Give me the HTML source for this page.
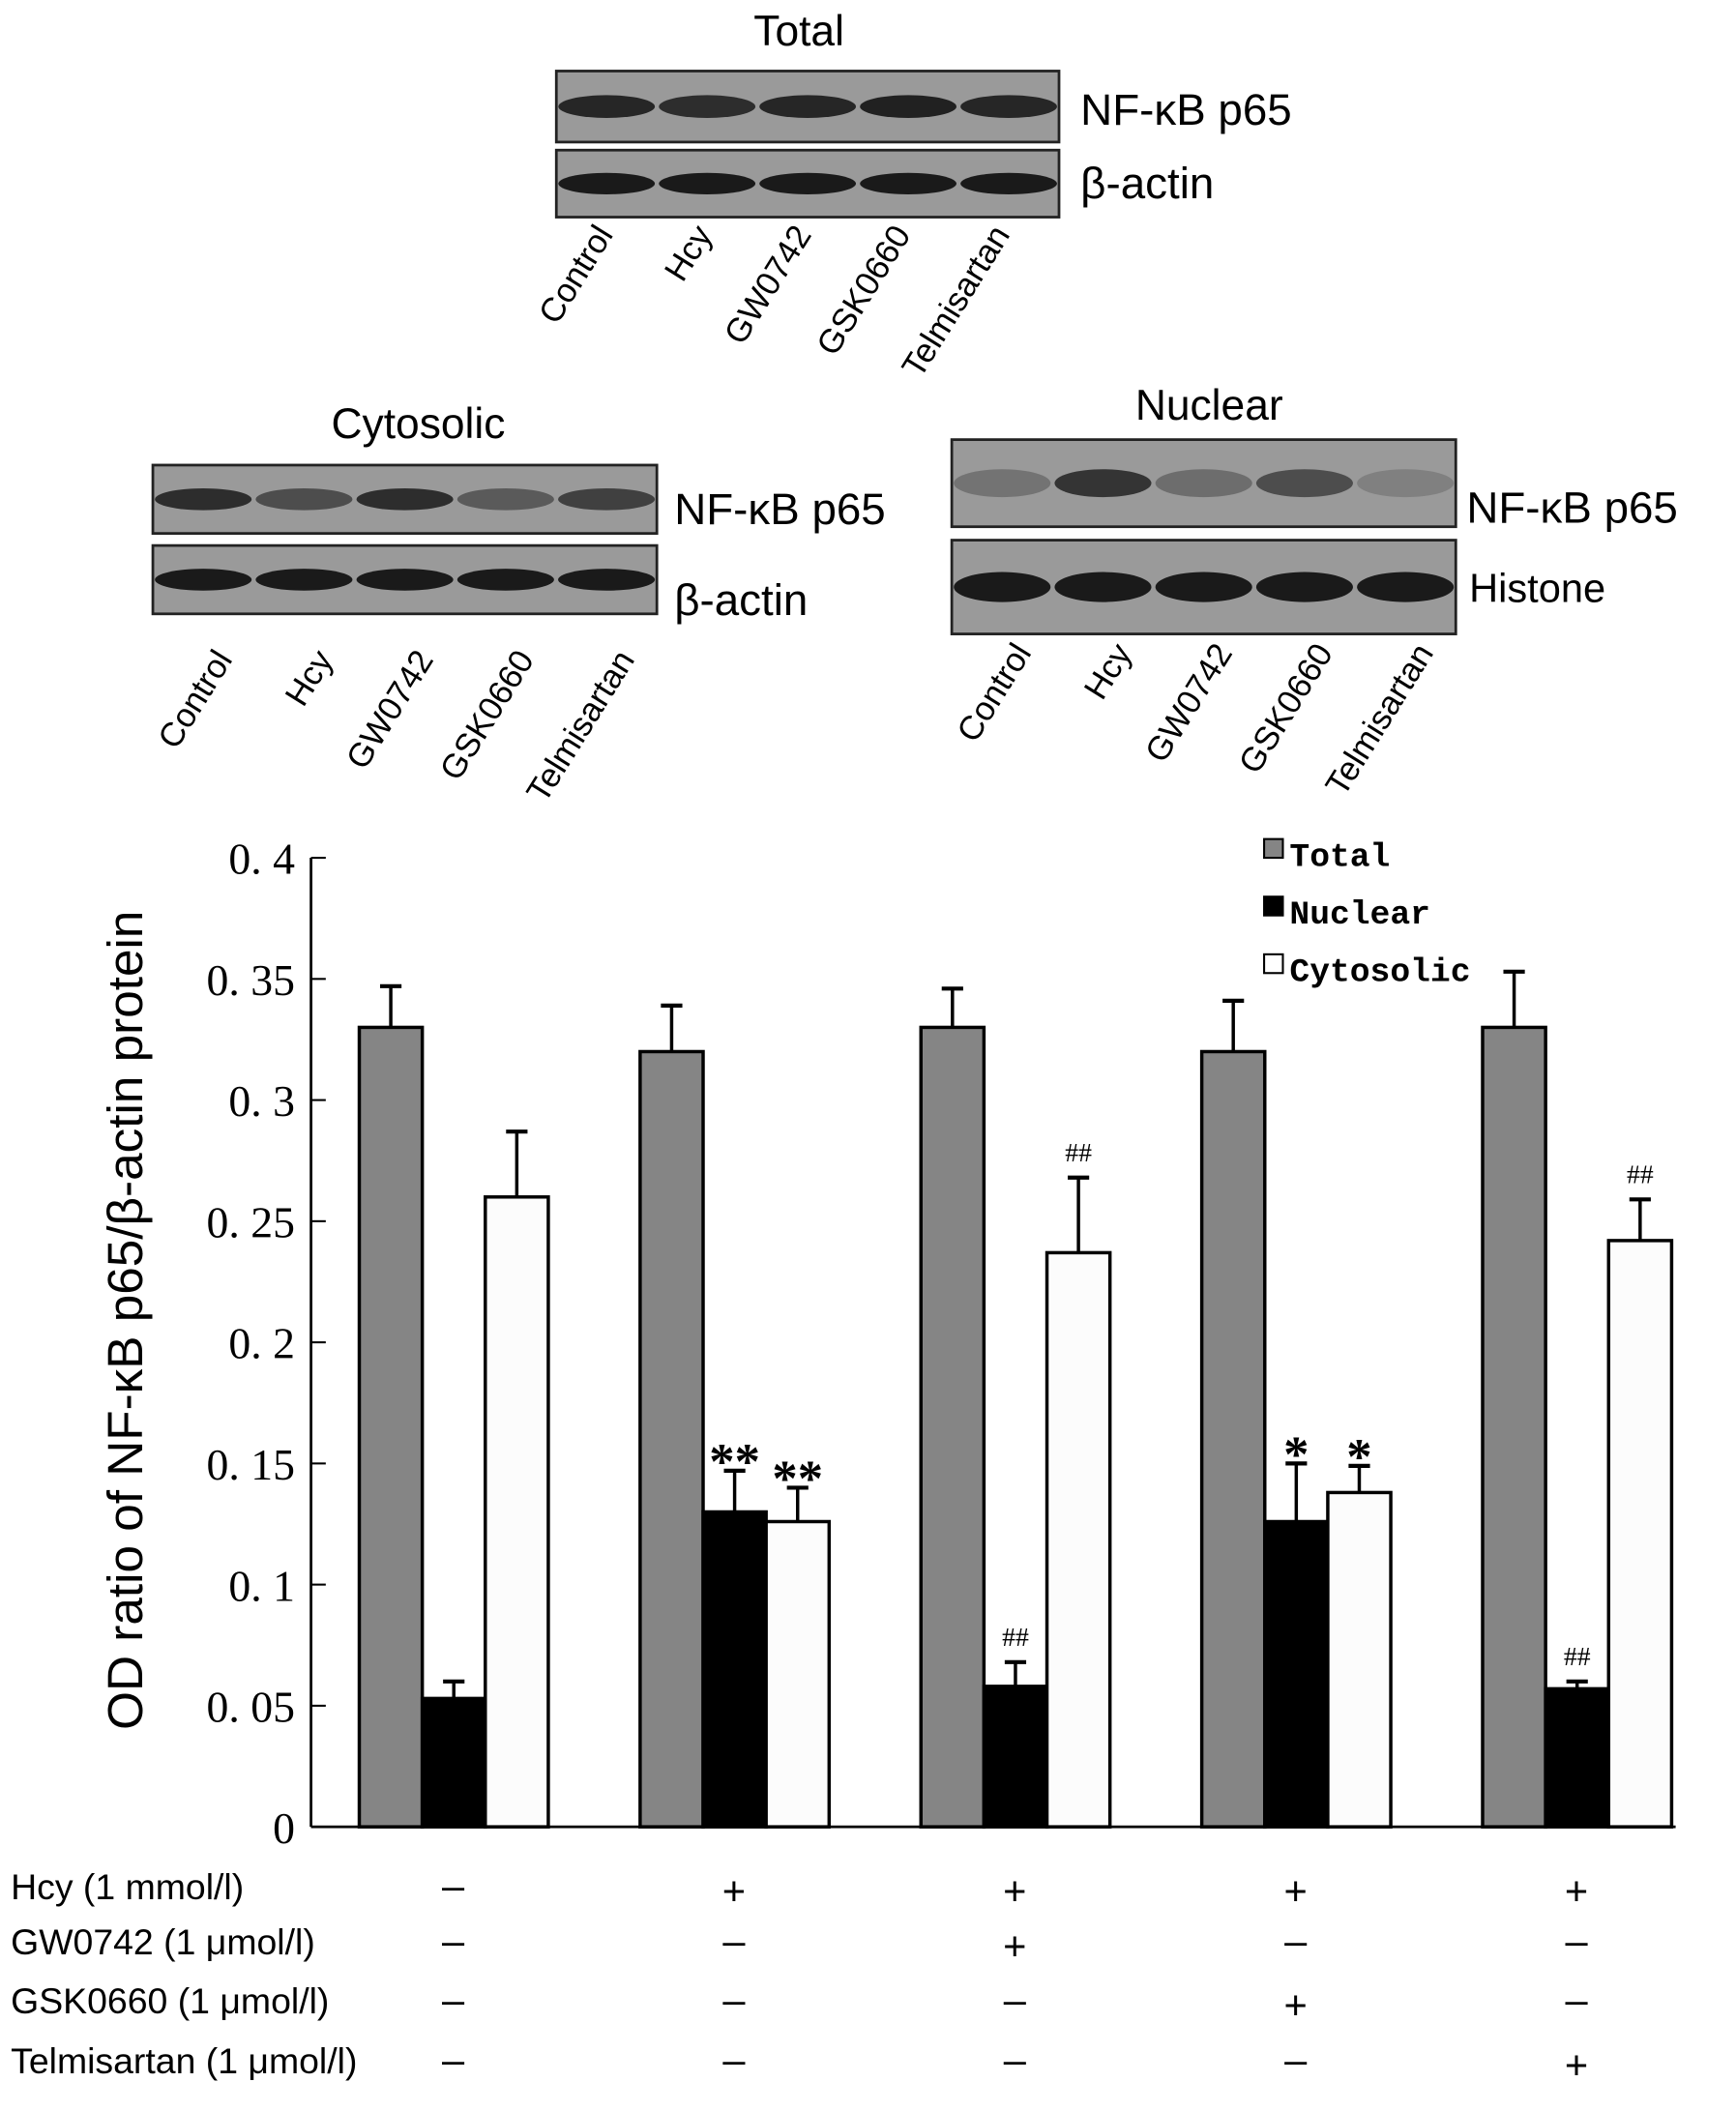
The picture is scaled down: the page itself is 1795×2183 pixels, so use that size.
<!DOCTYPE html>
<html><head><meta charset="utf-8"><style>
html,body{margin:0;padding:0;background:#fff;}
svg{display:block;}
.s{font-family:"Liberation Sans",sans-serif;}
.m{font-family:"Liberation Serif",serif;}
.mo{font-family:"Liberation Mono",monospace;}
</style></head><body>
<svg id="fig" width="1795" height="2183" viewBox="0 0 1295 1575" xmlns="http://www.w3.org/2000/svg">
<g id="blots"></g>
<g id="chart"></g>
<g id="table"></g>
</svg>
<script>
const categories=["Control","Hcy","GW0742","GSK0660","Telmisartan"];
const totalVals=[0.33,0.32,0.33,0.32,0.33];
const totalErr=[0.017,0.019,0.016,0.021,0.023];
const nuclearVals=[0.053,0.13,0.058,0.126,0.057];
const nuclearErr=[0.007,0.017,0.010,0.024,0.003];
const cytoVals=[0.26,0.126,0.237,0.138,0.242];
const cytoErr=[0.027,0.014,0.031,0.011,0.017];
const nuclearMarks=["","**","##","*","##"];
const cytoMarks=["","**","##","*","##"];
const yTicks=[0,0.05,0.1,0.15,0.2,0.25,0.3,0.35,0.4];
const yTickLabels=["0","0. 05","0. 1","0. 15","0. 2","0. 25","0. 3","0. 35","0. 4"];
const legendLabels=["Total","Nuclear","Cytosolic"];
const rowLabels=["Hcy (1 mmol/l)","GW0742 (1 μmol/l)","GSK0660 (1 μmol/l)","Telmisartan (1 μmol/l)"];
const rowSigns=[["–","+","+","+","+"],["–","–","+","–","–"],["–","–","–","+","–"],["–","–","–","–","+"]];
const NS="http://www.w3.org/2000/svg";
function mk(p,t,a,txt){const e=document.createElementNS(NS,t);for(const k in a)e.setAttribute(k,a[k]);if(txt!==undefined)e.textContent=txt;p.appendChild(e);return e;}
const y0=1363,y1=640,axX=232;
const ys=v=>y0-(v/0.4)*(y0-y1);
const gx=i=>268+i*209.5;
const bw=47;
const chart=document.getElementById('chart');
let ax=mk(chart,'line',{x1:axX,y1:y1,x2:axX,y2:y0,stroke:'#000','stroke-width':2});


let bx=mk(chart,'line',{x1:axX,y1:y0,x2:1250,y2:y0,stroke:'#000','stroke-width':2});


yTicks.forEach((t,i)=>{
 const y=ys(t);
 const tk=mk(chart,'line',{x1:axX,y1:y,x2:axX+11,y2:y,stroke:'#000','stroke-width':1.5});
 
 
 const tl=mk(chart,'text',{x:220,y:y+12,'text-anchor':'end','font-size':33,class:'m'},yTickLabels[i]);
 
 
});
const yt=mk(chart,'text',{x:0,y:0,transform:'translate(106,985) rotate(-90)','text-anchor':'middle','font-size':37,class:'s'},'OD ratio of NF-κB p65/β-actin protein');


const series=[[totalVals,totalErr,'#858585','total'],[nuclearVals,nuclearErr,'#000','nuclear'],[cytoVals,cytoErr,'#fcfcfc','cytosolic']];
categories.forEach((c,i)=>{
 series.forEach((s,j)=>{
  const x=gx(i)+j*bw, v=s[0][i], e=s[1][i];
  const cx=x+bw/2;
  const el=mk(chart,'line',{x1:cx,y1:ys(v),x2:cx,y2:ys(v+e),stroke:'#000','stroke-width':2.5});
  
  
  const cap=mk(chart,'line',{x1:cx-8,y1:ys(v+e),x2:cx+8,y2:ys(v+e),stroke:'#000','stroke-width':3});
  
  
  const r=mk(chart,'rect',{x:x,y:ys(v),width:bw,height:y0-ys(v),fill:s[2],stroke:'#000','stroke-width':2.5});
  
  
 });
 const ann=[[nuclearMarks[i],1,nuclearVals[i]+nuclearErr[i]],[cytoMarks[i],2,cytoVals[i]+cytoErr[i]]];
 ann.forEach(a=>{
  if(!a[0])return;
  const big=a[0].includes('*');
  const t=mk(chart,'text',{x:gx(i)+a[1]*bw+bw/2,y:ys(a[2])-(big?-6:12),'text-anchor':'middle','font-size':big?38:20,'font-weight':big?'bold':'normal',class:'m'},a[0]);
  
  
 });
});
const lcol=['#858585','#000','#fff'];
legendLabels.forEach((l,i)=>{
 const y=626+i*43;
 const r=mk(chart,'rect',{x:943,y:y,width:14,height:14,fill:lcol[i],stroke:'#000','stroke-width':1.5});
 
 
 const t=mk(chart,'text',{x:962,y:y+20,'font-size':25,'font-weight':'bold',class:'mo'},l);
 
 
});
const tb=document.getElementById('table');
const rowY=[1417,1458,1502,1547];
rowLabels.forEach((l,r)=>{
 const t=mk(tb,'text',{x:8,y:rowY[r],'font-size':27,class:'s'},l);
 
 
 rowSigns[r].forEach((s,i)=>{
  const st=mk(tb,'text',{x:gx(i)+70,y:rowY[r]+(s==='+'?4:0),'text-anchor':'middle','font-size':30,class:'s'},s);
  
  
 });
});
const bl=document.getElementById('blots');
function blot(x,y,w,h,intens,name){
 const g=mk(bl,'g',{});
 
 
 mk(g,'rect',{x:x,y:y,width:w,height:h,fill:'#9a9a9a',stroke:'#222','stroke-width':2});
 const lw=w/5;
 intens.forEach((k,i)=>{
  mk(g,'ellipse',{cx:x+lw*(i+0.5),cy:y+h/2,rx:lw*0.48,ry:h*0.16,fill:'#1a1a1a','fill-opacity':k});
 });
}
function txt(x,y,s,size,name,extra){
 const t=mk(bl,'text',Object.assign({x:x,y:y,'font-size':size,class:'s'},extra||{}),s);
 
 
}
function lanes(x0,lw,yb){
 categories.forEach((c,i)=>{
  const x=x0+i*lw;
  txt(0,0,c,25,'lane-label',{transform:`translate(${x},${yb}) rotate(-58)`,'text-anchor':'end'});
 });
}
txt(596,34,'Total',32,'panel-title-total',{'text-anchor':'middle'});
blot(415,53,375,53,[0.9,0.85,0.9,0.95,0.9],'blot-total-p65');
blot(415,112,375,50,[1,1,1,1,1],'blot-total-actin');
txt(806,93,'NF-κB p65',33,'band-label');
txt(806,148,'β-actin',33,'band-label');
lanes(458,74,175);
txt(312,327,'Cytosolic',32,'panel-title-cytosolic',{'text-anchor':'middle'});
blot(114,347,376,51,[0.85,0.6,0.85,0.5,0.7],'blot-cyto-p65');
blot(114,407,376,51,[1,1,1,1,1],'blot-cyto-actin');
txt(503,391,'NF-κB p65',33,'band-label');
txt(503,459,'β-actin',33,'band-label');
lanes(174,75,492);
txt(902,313,'Nuclear',32,'panel-title-nuclear',{'text-anchor':'middle'});
blot(710,328,376,65,[0.3,0.8,0.35,0.6,0.2],'blot-nuclear-p65');
blot(710,403,376,70,[1,1,1,1,1],'blot-nuclear-histone');
txt(1094,390,'NF-κB p65',33,'band-label');
txt(1096,449,'Histone',30,'band-label');
lanes(770,75,487);
</script>
</body></html>
